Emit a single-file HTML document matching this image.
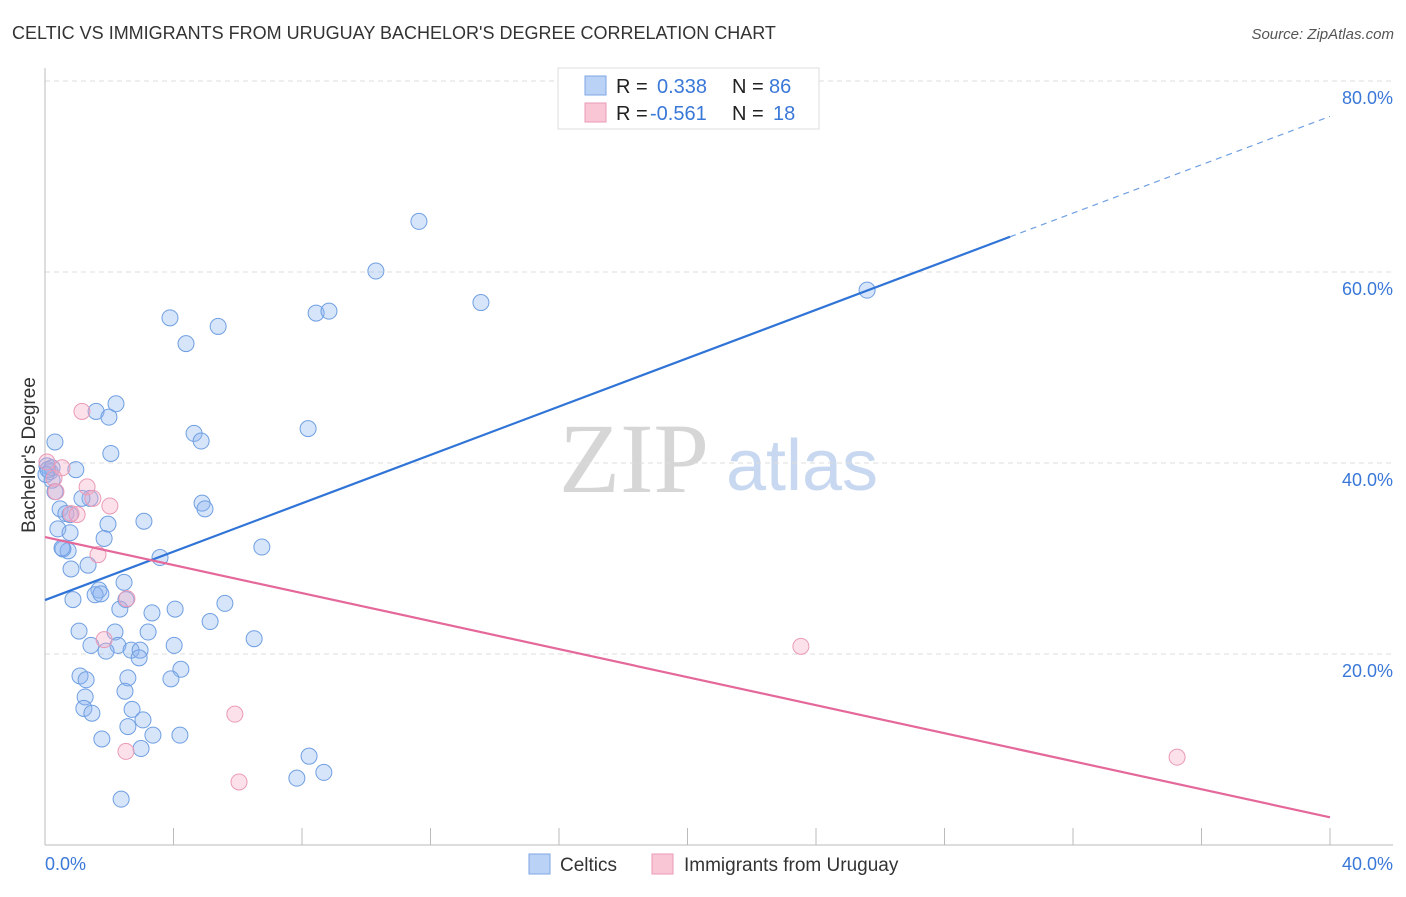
<!DOCTYPE html>
<html><head><meta charset="utf-8"><style>
body{margin:0;background:#fff;font-family:"Liberation Sans",sans-serif;}
svg text{font-family:"Liberation Sans",sans-serif;}
</style></head><body>
<svg id="chart" width="1406" height="892" xmlns="http://www.w3.org/2000/svg">
<text x="12" y="39" font-size="18" fill="#333">CELTIC VS IMMIGRANTS FROM URUGUAY BACHELOR'S DEGREE CORRELATION CHART</text>
<text x="1394" y="39" font-size="15" fill="#555" font-style="italic" text-anchor="end">Source: ZipAtlas.com</text>
<g>
<text x="634" y="492" font-size="100" fill="#d6d6d6" style="font-family:'Liberation Serif',serif" text-anchor="middle">ZIP</text>
<text x="802" y="490" font-size="72" fill="#c8d8f0" text-anchor="middle">atlas</text>
</g>
<g id="grid"></g>
<g id="axes"></g>
<g id="marks"></g>
<text transform="translate(35,455) rotate(-90)" font-size="19" fill="#333" text-anchor="middle">Bachelor's Degree</text>
<g>
<rect x="558" y="68" width="261" height="61" fill="#fff" stroke="#ddd"/>
<rect x="585" y="76" width="21" height="19" fill="#b9d2f5" stroke="#7fa6e6"/>
<rect x="585" y="103" width="21" height="19" fill="#f9c6d6" stroke="#eb9ab6"/>
<text x="616" y="93" font-size="20" fill="#222">R =</text><text x="657" y="93" font-size="20" fill="#3a78d8">0.338</text>
<text x="732" y="93" font-size="20" fill="#222">N =</text><text x="769" y="93" font-size="20" fill="#3a78d8">86</text>
<text x="616" y="120" font-size="20" fill="#222">R =</text><text x="650" y="120" font-size="20" fill="#3a78d8">-0.561</text>
<text x="732" y="120" font-size="20" fill="#222">N =</text><text x="773" y="120" font-size="20" fill="#3a78d8">18</text>
</g>
<g>
<rect x="529" y="854" width="21" height="20" fill="#b9d2f5" stroke="#7fa6e6"/>
<text x="560" y="871" font-size="19" fill="#333">Celtics</text>
<rect x="652" y="854" width="21" height="20" fill="#f9c6d6" stroke="#eb9ab6"/>
<text x="684" y="871" font-size="19" fill="#333">Immigrants from Uruguay</text>
</g>
</svg>
<script>
const yTicks=[20,40,60,80];
const yTickLabels=["20.0%","40.0%","60.0%","80.0%"];
const xTickVals=[0,4,8,12,16,20,24,28,32,36,40];
const xEndLabels=["0.0%","40.0%"];
const celticsX=[11.64,10.30,13.57,25.59,3.89,5.39,8.44,8.84,4.39,2.21,1.59,1.99,4.64,4.86,8.19,0.31,2.05,0.96,0.06,0.16,0.22,0.31,1.40,1.15,4.89,4.98,0.47,0.65,0.78,1.96,3.08,0.40,0.78,1.84,6.75,0.56,0.72,3.58,1.34,0.81,2.46,1.68,1.56,1.74,0.87,2.52,5.60,2.33,3.33,4.05,5.14,1.06,2.18,3.21,1.43,2.27,4.02,6.51,1.90,2.68,2.96,2.93,4.23,1.09,1.28,3.92,2.58,2.49,1.25,1.21,1.46,2.71,3.05,2.58,1.77,3.36,4.20,2.99,8.22,8.68,7.84,2.37,0.09,0.22,0.03,0.53];
const celticsY=[65.3,60.1,56.8,58.1,55.2,54.3,55.7,55.9,52.5,46.2,45.4,44.8,43.1,42.3,43.6,42.2,41.0,39.3,39.7,39.1,38.2,37.0,36.3,36.3,35.8,35.2,35.2,34.7,34.6,33.6,33.9,33.1,32.7,32.1,31.2,31.0,30.8,30.1,29.3,28.9,27.5,26.7,26.2,26.3,25.7,25.7,25.3,24.7,24.3,24.7,23.4,22.4,22.3,22.3,20.9,20.9,20.9,21.6,20.3,20.4,20.4,19.6,18.4,17.7,17.3,17.4,17.5,16.1,15.5,14.3,13.8,14.2,13.1,12.4,11.1,11.5,11.5,10.1,9.3,7.6,7.0,4.8,39.3,39.5,38.8,31.1];
const uruguayX=[1.15,0.06,0.53,0.28,0.34,1.31,1.49,2.02,0.81,1.00,1.65,2.55,1.84,5.91,2.52,6.04,23.53,35.24];
const uruguayY=[45.4,40.1,39.5,38.4,37.0,37.5,36.3,35.5,34.7,34.6,30.4,25.8,21.5,13.7,9.8,6.6,20.8,9.2];
const celticsTrend=[25.65,76.3];
const celticsSolidEnd=30.04;
const uruguayTrend=[32.25,2.9];

const X0=45,X1=1330,Y0=845,Y80=81;
function sx(v){return X0+(X1-X0)*v/40;}
function sy(v){return Y0-(Y0-Y80)*v/80;}
const NS="http://www.w3.org/2000/svg";
function mk(tag,attrs,parent){const e=document.createElementNS(NS,tag);for(const k in attrs)e.setAttribute(k,attrs[k]);parent.appendChild(e);return e;}
const grid=document.getElementById('grid'),axes=document.getElementById('axes'),marks=document.getElementById('marks');
yTicks.forEach((t,i)=>{
 const l=mk('line',{x1:X0,x2:1393,y1:sy(t),y2:sy(t),stroke:'#dcdcdc','stroke-dasharray':'5,4'},grid);
 
 
 const tx=mk('text',{x:1393,y:sy(t)+23,'font-size':18,fill:'#3a78d8','text-anchor':'end'},axes);
 tx.textContent=yTickLabels[i];
 
 
});
let a=mk('line',{x1:X0,x2:X0,y1:68,y2:Y0,stroke:'#bbb'},axes);


a=mk('line',{x1:X0,x2:1393,y1:Y0,y2:Y0,stroke:'#bbb'},axes);


xTickVals.forEach(v=>{
 const t=mk('line',{x1:sx(v),x2:sx(v),y1:828,y2:Y0,stroke:'#bbb'},axes);
 
 
});
let xl=mk('text',{x:X0,y:870,'font-size':18,fill:'#3a78d8'},axes);xl.textContent=xEndLabels[0];


xl=mk('text',{x:1393,y:870,'font-size':18,fill:'#3a78d8','text-anchor':'end'},axes);xl.textContent=xEndLabels[1];



celticsX.forEach((x,i)=>{
 const c=mk('circle',{cx:sx(x),cy:sy(celticsY[i]),r:8,fill:'rgba(140,180,240,0.35)',stroke:'#6f9fe2','stroke-width':1},marks);
 
 
});
uruguayX.forEach((x,i)=>{
 const c=mk('circle',{cx:sx(x),cy:sy(uruguayY[i]),r:8,fill:'rgba(245,170,195,0.35)',stroke:'#eb9ab6','stroke-width':1},marks);
 
 
});
function trendY(tr,x){return tr[0]+(tr[1]-tr[0])*x/40;}
let ln=mk('line',{x1:sx(0),y1:sy(trendY(celticsTrend,0)),x2:sx(celticsSolidEnd),y2:sy(trendY(celticsTrend,celticsSolidEnd)),stroke:'#2f74d6','stroke-width':2.2},marks);


ln=mk('line',{x1:sx(celticsSolidEnd),y1:sy(trendY(celticsTrend,celticsSolidEnd)),x2:sx(40),y2:sy(trendY(celticsTrend,40)),stroke:'#6f9fe2','stroke-width':1.2,'stroke-dasharray':'6,5'},marks);


ln=mk('line',{x1:sx(0),y1:sy(trendY(uruguayTrend,0)),x2:sx(40),y2:sy(trendY(uruguayTrend,40)),stroke:'#e4689a','stroke-width':2.2},marks);


</script>
</body></html>
